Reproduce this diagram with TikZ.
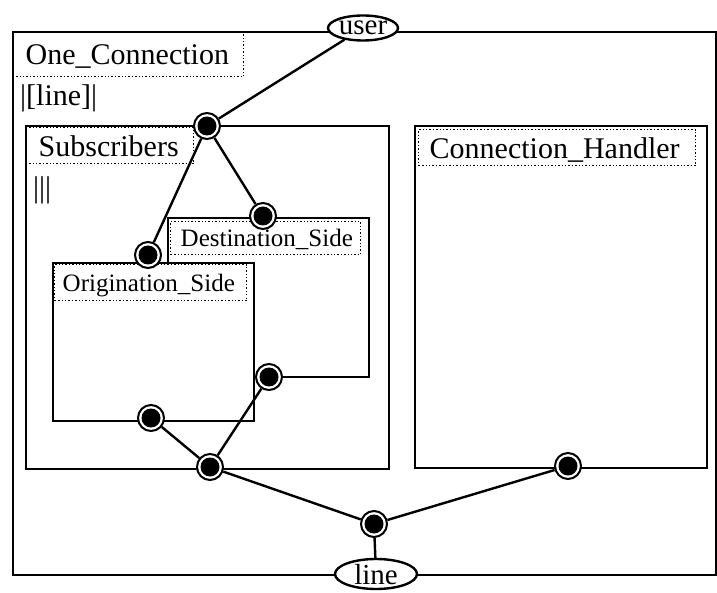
\documentclass[tikz,border=0pt]{standalone}
\usepackage{fontspec}
\setmainfont{Liberation Serif}
\usetikzlibrary{shapes.geometric}
\begin{document}
\begin{tikzpicture}[x=1pt,y=-1pt,
  boxline/.style={draw=black,line width=2.4pt},
  blk/.style={boxline,rectangle,fill=white,inner sep=0pt,anchor=north west},
  lbl/.style={draw=black,dotted,line width=1.4pt,rectangle,anchor=north west,inner sep=0pt,text depth=0pt,align=left,font=\fontsize{30}{32}\selectfont},
  slbl/.style={lbl,font=\fontsize{25}{27}\selectfont},
  port/.style={circle,draw=black,line width=2pt,fill=white,minimum size=26pt,inner sep=0pt,
    path picture={\fill[black] (path picture bounding box.center) circle (9.5pt);}},
  ell/.style={ellipse,draw=black,line width=2.4pt,fill=white,inner sep=0pt},
  elltxt/.style={anchor=base,inner sep=0pt,font=\fontsize{29}{30}\selectfont},
  conn/.style={draw=black,line width=2.4pt},
  txt/.style={anchor=west,inner sep=0pt,font=\fontsize{30}{32}\selectfont}]
\fill[white] (0,0) rectangle (717,593);
\useasboundingbox (0,0) rectangle (717,593);
% outer box
\node[blk,minimum width=703pt,minimum height=543pt] (outer) at (12,31) {};
\node[lbl,minimum width=231pt,minimum height=44pt,text width=221pt] (outerl) at (12,32) {\hspace*{8pt}One\_Connection};
\node[txt] (outert) at (20,98) {|[line]|};
% subscribers
\node[blk,minimum width=363pt,minimum height=343pt] (subs) at (25,125) {};
\node[lbl,minimum width=168pt,minimum height=36pt,text width=158pt] (subsl) at (25,127) {\hspace*{8pt}Subscribers};
\node[txt] (subst) at (33,190) {|||};
% connection handler
\node[blk,minimum width=292pt,minimum height=342pt] (ch) at (414,125) {};
\node[lbl,minimum width=277pt,minimum height=36pt,text width=267pt] (chl) at (418,129) {\hspace*{6pt}Connection\_Handler};
% destination side
\node[blk,minimum width=201pt,minimum height=159pt] (dest) at (167,217) {};
\node[slbl,minimum width=190pt,minimum height=33pt,text width=182pt] (destl) at (170,221) {\hspace*{6pt}Destination\_Side};
% origination side
\node[blk,minimum width=201pt,minimum height=158pt] (orig) at (52,262) {};
\node[slbl,minimum width=192pt,minimum height=36pt,text width=184pt] (origl) at (54,264) {\hspace*{4pt}Origination\_Side};
% interface ellipses
\node[ell,minimum width=70pt,minimum height=25pt] (user) at (363,28) {};
\node[elltxt] (usert) at (363,35) {user};
\node[ell,minimum width=82pt,minimum height=30pt] (line) at (376,574) {};
\node[elltxt] (linet) at (376,584) {line};
% ports
\node[port] (pTop) at (207,126) {};
\node[port] (pOrigTop) at (148,255) {};
\node[port] (pDestTop) at (263,216) {};
\node[port] (pDestBot) at (269,377) {};
\node[port] (pOrigBot) at (151,418) {};
\node[port] (pSubBot) at (210,467) {};
\node[port] (pCHBot) at (568,466) {};
\node[port] (pJ) at (374,524) {};
% connectors
\draw[conn] (user) -- (pTop);
\draw[conn] (pTop) -- (pOrigTop);
\draw[conn] (pTop) -- (pDestTop);
\draw[conn] (pSubBot) -- (pOrigBot);
\draw[conn] (pSubBot) -- (pDestBot);
\draw[conn] (pSubBot) -- (pJ);
\draw[conn] (pCHBot) -- (pJ);
\draw[conn] (pJ) -- (line);
\end{tikzpicture}
\end{document}
